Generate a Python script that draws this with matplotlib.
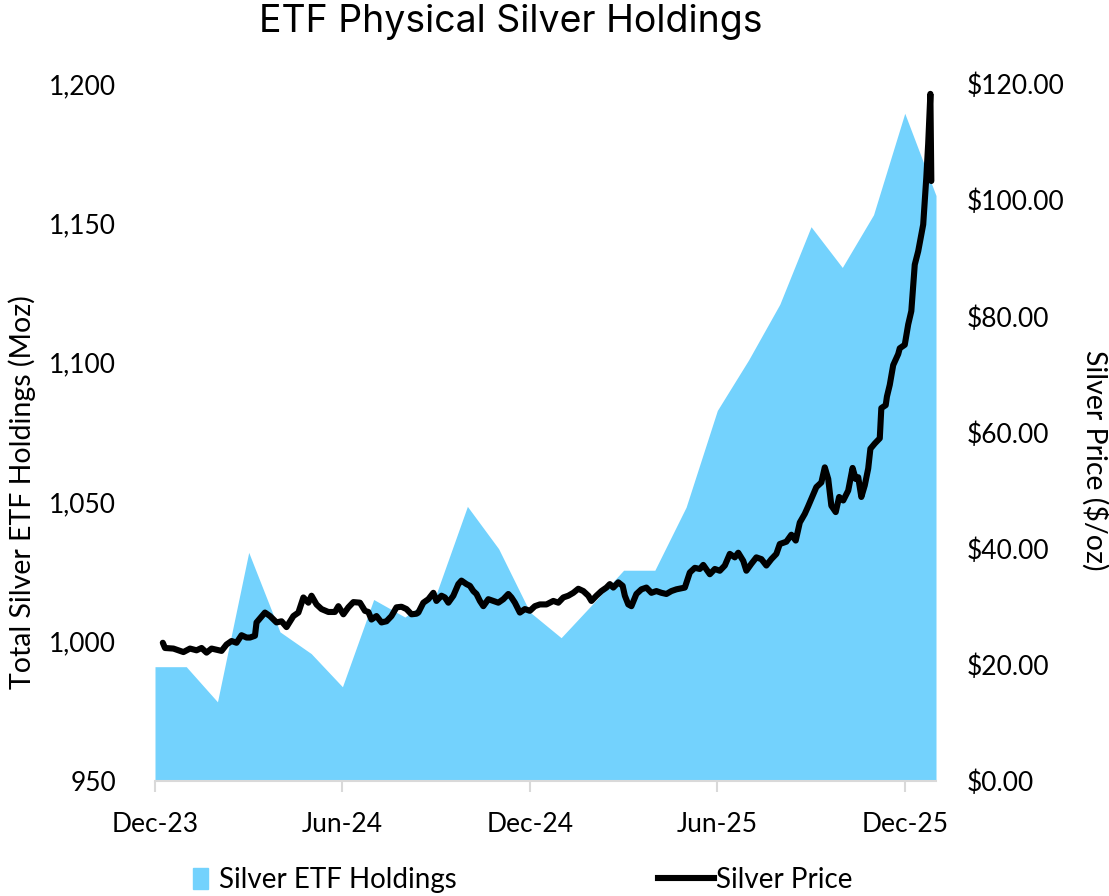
import matplotlib
matplotlib.use("Agg")
import matplotlib.pyplot as plt
from matplotlib.patches import Patch
from matplotlib.lines import Line2D

# months counted from Dec-23 (0) to Jan-26 (25)
hold_month = list(range(26))
holdings = [991, 991, 978.4, 1032, 1003.5, 995.7, 983.8, 1015.1, 1008.8, 1017,
            1048.5, 1033.3, 1010.6, 1001.4, 1013.4, 1025.6, 1025.6, 1048.2, 1082.9, 1101,
            1121, 1148.8, 1134.2, 1153.1, 1189.5, 1160]

price_month = [0.25, 0.32, 0.59, 0.91, 1.12, 1.33, 1.49, 1.65, 1.81, 1.97,
               2.13, 2.29, 2.45, 2.61, 2.77, 2.93, 3.04, 3.2, 3.25, 3.52,
               3.68, 3.89, 4.05, 4.21, 4.43, 4.59, 4.75, 4.91, 5.01, 5.17,
               5.33, 5.55, 5.76, 5.87, 6.03, 6.19, 6.35, 6.56, 6.72, 6.83,
               6.93, 7.09, 7.25, 7.41, 7.57, 7.73, 7.89, 8.05, 8.21, 8.37,
               8.43, 8.59, 8.75, 8.91, 9.01, 9.17, 9.28, 9.39, 9.55, 9.71,
               9.81, 9.97, 10.08, 10.19, 10.29, 10.4, 10.51, 10.67, 10.83, 10.99,
               11.15, 11.31, 11.41, 11.52, 11.68, 11.84, 12.0, 12.16, 12.32, 12.53,
               12.75, 12.91, 13.07, 13.23, 13.39, 13.55, 13.71, 13.87, 13.97, 14.13,
               14.29, 14.45, 14.56, 14.67, 14.83, 14.97, 15.04, 15.15, 15.25, 15.41,
               15.57, 15.73, 15.89, 16.05, 16.21, 16.37, 16.53, 16.69, 16.96, 17.12,
               17.28, 17.44, 17.55, 17.76, 17.92, 18.08, 18.24, 18.4, 18.56, 18.67,
               18.83, 18.93, 19.09, 19.25, 19.41, 19.57, 19.73, 19.89, 20.0, 20.21,
               20.37, 20.51, 20.64, 20.8, 20.9, 21.01, 21.17, 21.33, 21.44, 21.55,
               21.65, 21.79, 21.9, 22.03, 22.19, 22.33, 22.43, 22.51, 22.61, 22.72,
               22.83, 22.9, 23.04, 23.2, 23.25, 23.39, 23.43, 23.52, 23.63, 23.79,
               23.84, 24.0, 24.11, 24.21, 24.32, 24.43, 24.53, 24.59, 24.69, 24.75,
               24.82, 24.85]
price_usd = [23.8, 22.9, 22.8, 22.2, 22.8, 22.5, 22.9, 22.1, 22.8, 22.6,
             22.4, 23.5, 24.1, 23.8, 25.1, 24.7, 24.7, 25.0, 27.3, 29.0,
             28.4, 27.3, 27.5, 26.5, 28.4, 29.0, 31.6, 30.7, 31.9, 30.4,
             29.6, 29.1, 29.1, 30.1, 28.7, 29.9, 30.8, 30.7, 29.3, 29.1,
             27.8, 28.4, 27.3, 27.5, 28.4, 29.9, 30.0, 29.6, 28.7, 28.8,
             29.0, 30.7, 31.3, 32.4, 31.0, 31.9, 31.6, 30.7, 31.9, 33.9,
             34.5, 33.9, 33.6, 32.7, 32.2, 31.0, 30.1, 31.3, 31.0, 30.7,
             31.3, 32.2, 31.6, 30.7, 29.0, 29.6, 29.3, 30.1, 30.4, 30.4,
             31.0, 30.7, 31.6, 31.9, 32.4, 33.1, 32.7, 31.9, 31.0, 31.9,
             32.7, 33.3, 33.9, 33.3, 34.2, 33.6, 31.9, 30.4, 30.1, 32.2,
             33.0, 33.3, 32.4, 32.7, 32.4, 32.2, 32.7, 33.0, 33.3, 35.9,
             36.7, 36.5, 37.2, 35.6, 36.5, 36.2, 37.1, 39.1, 38.5, 39.3,
             37.9, 36.2, 37.4, 38.5, 38.2, 37.1, 38.2, 39.1, 40.8, 41.2,
             42.4, 41.4, 44.5, 46.0, 47.2, 48.6, 50.6, 51.4, 54.0, 52.0,
             47.4, 46.3, 48.9, 48.3, 50.0, 53.9, 52.0, 52.3, 48.9, 50.9,
             53.8, 57.2, 58.1, 59.0, 64.2, 64.7, 66.2, 68.2, 71.6, 73.5,
             74.5, 75.1, 78.6, 80.9, 88.9, 91.2, 94.1, 95.8, 103.9, 109.7,
             118.3, 103.3]

tick_month = [0, 6, 12, 18, 24]
tick_labels = ["Dec-23", "Jun-24", "Dec-24", "Jun-25", "Dec-25"]
left_ticks = [950, 1000, 1050, 1100, 1150, 1200]
right_ticks = [0, 20, 40, 60, 80, 100, 120]

plt.rcParams['font.family'] = ['Lato', 'DejaVu Sans']
fs = 19
blue = '#73D2FD'

fig = plt.figure(figsize=(11.09, 8.96), dpi=100)
W, H = 1109, 896
ax = fig.add_axes([155 / W, 1 - 781 / H, (936 - 155) / W, (781 - 84) / H])

ax.fill_between(hold_month, holdings, 950, color=blue, linewidth=0)
ax.set_xlim(0, 25)
ax.set_ylim(950, 1200)
ax.set_yticks(left_ticks)
ax.set_yticklabels([f"{v:,}" for v in left_ticks])
ax.set_xticks(tick_month)
ax.set_xticklabels(tick_labels)
ax.tick_params(axis='y', length=0, pad=28, labelsize=fs)
ax.tick_params(axis='x', length=8, width=1.5, color='#d9d9d9', pad=14, labelsize=fs)
for s in ['top', 'left', 'right']:
    ax.spines[s].set_visible(False)
ax.spines['bottom'].set_color('#d9d9d9')
ax.spines['bottom'].set_linewidth(1.5)
ax.set_ylabel("Total Silver ETF Holdings (Moz)", fontsize=20.5, va='center')
ax.yaxis.set_label_coords(-0.170, 0.415)

ax2 = ax.twinx()
ax2.plot(price_month, price_usd, color='black', lw=4.4,
         solid_joinstyle='round', solid_capstyle='round')
ax2.set_ylim(0, 120)
ax2.set_yticks(right_ticks)
ax2.set_yticklabels([f"${v:.2f}" for v in right_ticks])
ax2.tick_params(axis='y', length=0, pad=22, labelsize=fs)
for s in ax2.spines.values():
    s.set_visible(False)
ax2.set_ylabel("Silver Price ($/oz)", fontsize=20.5, rotation=270, va='center')
ax2.yaxis.set_label_coords(1.2036, 0.46)

fig.text(511 / W, 1 - 22 / H, "ETF Physical Silver Holdings", fontsize=27,
         family=['Inter', 'DejaVu Sans'], ha='center', va='center')

leg1 = fig.legend(handles=[Patch(color=blue, label='Silver ETF Holdings')],
                  loc='center left', bbox_to_anchor=(193 / W, 1 - 880 / H),
                  frameon=False, fontsize=20, handlelength=0.55, handleheight=0.8,
                  handletextpad=0.4, borderpad=0, borderaxespad=0)
leg2 = fig.legend(handles=[Line2D([], [], color='black', lw=4.4, label='Silver Price')],
                  loc='center left', bbox_to_anchor=(658 / W, 1 - 880 / H),
                  frameon=False, fontsize=20, handlelength=2.0,
                  handletextpad=0.1, borderpad=0, borderaxespad=0)

fig.savefig("out.png", dpi=100)
